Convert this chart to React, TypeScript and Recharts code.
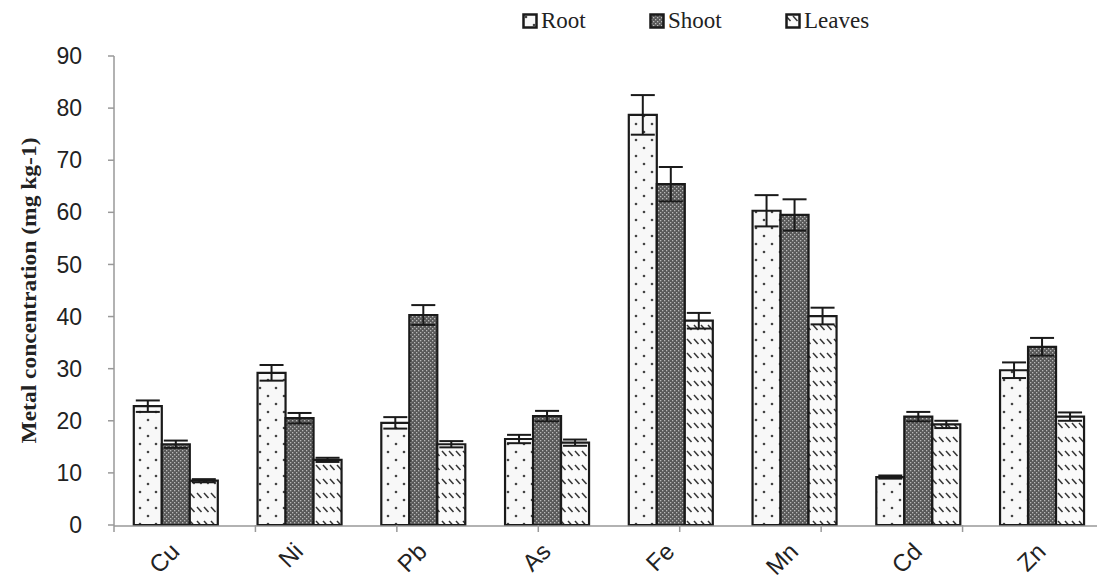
import React from 'react';
import { BarChart, Bar, XAxis, YAxis, ErrorBar, Legend } from 'recharts';

const metals = ['Cu', 'Ni', 'Pb', 'As', 'Fe', 'Mn', 'Cd', 'Zn'];
const root = [22.8, 29.2, 19.6, 16.5, 78.7, 60.3, 9.2, 29.7];
const rootErr = [1.1, 1.5, 1.1, 0.8, 3.8, 3.0, 0.3, 1.5];
const shoot = [15.5, 20.5, 40.3, 20.9, 65.4, 59.5, 20.8, 34.2];
const shootErr = [0.7, 1.0, 1.9, 1.0, 3.3, 3.0, 0.9, 1.7];
const leaves = [8.5, 12.5, 15.5, 15.8, 39.2, 40.1, 19.3, 20.8];
const leavesErr = [0.3, 0.4, 0.6, 0.6, 1.5, 1.6, 0.7, 0.8];
const yTicks = [0, 10, 20, 30, 40, 50, 60, 70, 80, 90];
const seriesNames = ['Root', 'Shoot', 'Leaves'];

const data = metals.map((m, i) => ({
  metal: m,
  root: root[i],
  rootErr: rootErr[i],
  shoot: shoot[i],
  shootErr: shootErr[i],
  leaves: leaves[i],
  leavesErr: leavesErr[i],
}));

// boundaries between categories, for the little tick marks on the x axis
const boundaries = metals.map((_, i) => i).concat([metals.length]);

const fills = ['url(#rootPat)', 'url(#shootPat)', 'url(#leafPat)'];
const legendLeft = [522, 649, 785];

const XTick = (props: any) => {
  const { x, y, payload } = props;
  const ax = x + 5;
  const ay = y + 19;
  return (
    <text
      x={ax}
      y={ay}
      transform={`rotate(-45 ${ax} ${ay})`}
      textAnchor="end"
      fontSize={24}
      fontFamily="'Liberation Sans', Arial, sans-serif"
      fill="#222"
    >
      {payload.value}
    </text>
  );
};

const EmptyTick = () => <g />;

const YLabel = (props: any) => {
  const { viewBox } = props;
  const cx = viewBox.x + 29;
  const cy = viewBox.y + viewBox.height / 2;
  return (
    <text
      x={cx}
      y={cy}
      transform={`rotate(-90 ${cx} ${cy})`}
      textAnchor="middle"
      dominantBaseline="central"
      fontSize={21}
      fontWeight="bold"
      fontFamily="'Liberation Serif', 'Times New Roman', serif"
      fill="#222"
      textLength={306}
      lengthAdjust="spacingAndGlyphs"
    >
      Metal concentration (mg kg-1)
    </text>
  );
};

const renderLegend = () => (
  <div style={{ position: 'relative', height: 30 }}>
    {seriesNames.map((name, i) => (
      <div
        key={name}
        style={{
          position: 'absolute',
          left: legendLeft[i],
          top: 0,
          display: 'flex',
          alignItems: 'center',
          fontFamily: "'Liberation Serif', 'Times New Roman', serif",
          fontSize: 23,
          color: '#222',
          lineHeight: '30px',
        }}
      >
        <svg width={16} height={16} style={{ marginRight: 3 }}>
          <rect x={1.5} y={1.5} width={13} height={13} fill={fills[i]} stroke="#1a1a1a" strokeWidth={2.5} />
        </svg>
        {name}
      </div>
    ))}
  </div>
);

export default function App() {
  return (
    <div style={{ position: 'absolute', left: 0, top: 0, width: 1097, height: 579, overflow: 'hidden', background: '#fff' }}>
      <BarChart
        width={1104}
        height={579}
        data={data}
        margin={{ top: 26, right: 0, bottom: 0, left: 0 }}
        barCategoryGap="16%"
        barGap={0}
      >
        <defs>
          <pattern id="rootPat" width={16} height={16} patternUnits="userSpaceOnUse">
            <rect width={16} height={16} fill="#f8f8f8" />
            <circle cx={4} cy={4} r={1.3} fill="#444" />
            <circle cx={12} cy={12} r={1.3} fill="#444" />
          </pattern>
          <pattern id="shootPat" width={4} height={4} patternUnits="userSpaceOnUse">
            <rect width={4} height={4} fill="#585858" />
            <rect x={0} y={0} width={1.3} height={1.3} fill="#b8b8b8" />
            <rect x={2} y={2} width={1.3} height={1.3} fill="#b8b8b8" />
          </pattern>
          <pattern id="leafPat" width={7} height={14} patternUnits="userSpaceOnUse">
            <rect width={7} height={14} fill="#fafafa" />
            <line x1={1} y1={3} x2={5.5} y2={8} stroke="#333" strokeWidth={1.5} />
          </pattern>
        </defs>
        <XAxis
          xAxisId="b"
          dataKey="metal"
          height={53}
          axisLine={{ stroke: '#999', strokeWidth: 1.5 }}
          tickLine={false}
          tick={<XTick />}
          interval={0}
        />
        <XAxis
          xAxisId="a"
          type="number"
          domain={[0, metals.length]}
          allowDataOverflow
          ticks={boundaries}
          interval={0}
          height={1}
          axisLine={false}
          tick={<EmptyTick />}
          tickSize={7}
          tickLine={{ stroke: '#999', strokeWidth: 1.5 }}
        />
        <YAxis
          width={114}
          domain={[0, 90]}
          ticks={yTicks}
          interval={0}
          tickSize={6}
          tickMargin={26}
          axisLine={{ stroke: '#999', strokeWidth: 1.5 }}
          tickLine={{ stroke: '#999', strokeWidth: 1.5 }}
          tick={{ fontSize: 23, fill: '#222', fontFamily: "'Liberation Sans', Arial, sans-serif" }}
          label={<YLabel />}
        />
        <Legend
          layout="vertical"
          align="center"
          verticalAlign="top"
          wrapperStyle={{ top: 6, left: 0, width: 1104, height: 30 }}
          content={renderLegend}
        />
        <Bar xAxisId="b" dataKey="root" name="Root" fill={fills[0]} stroke="#1a1a1a" strokeWidth={2.2} isAnimationActive={false}>
          <ErrorBar dataKey="rootErr" width={12} stroke="#1a1a1a" strokeWidth={2} direction="y" />
        </Bar>
        <Bar xAxisId="b" dataKey="shoot" name="Shoot" fill={fills[1]} stroke="#1a1a1a" strokeWidth={2.2} isAnimationActive={false}>
          <ErrorBar dataKey="shootErr" width={12} stroke="#1a1a1a" strokeWidth={2} direction="y" />
        </Bar>
        <Bar xAxisId="b" dataKey="leaves" name="Leaves" fill={fills[2]} stroke="#1a1a1a" strokeWidth={2.2} isAnimationActive={false}>
          <ErrorBar dataKey="leavesErr" width={12} stroke="#1a1a1a" strokeWidth={2} direction="y" />
        </Bar>
      </BarChart>
    </div>
  );
}
